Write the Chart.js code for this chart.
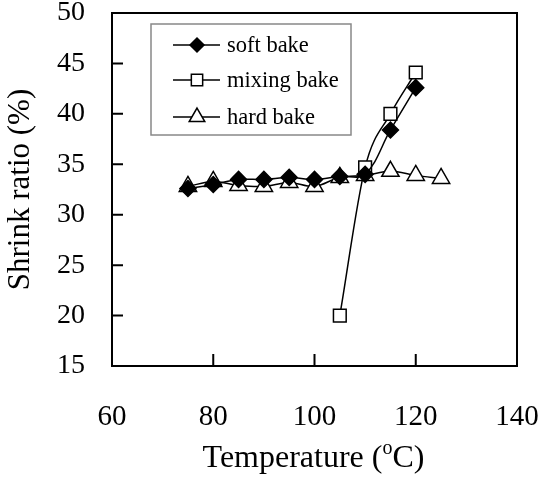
<!DOCTYPE html>
<html>
<head>
<meta charset="utf-8">
<script src="https://cdn.jsdelivr.net/npm/chart.js@4.4.1/dist/chart.umd.min.js"></script>
<style>
  html, body { margin: 0; padding: 0; background: #fff; }
  #wrap { width: 542px; height: 482px; }
</style>
</head>
<body>
<div id="wrap"><canvas id="myChart" width="542" height="482"></canvas></div>
<script>
// values
var softTemps = [75, 80, 85, 90, 95, 100, 105, 110, 115, 120];
var softBake = [32.6, 33.0, 33.5, 33.5, 33.7, 33.5, 33.8, 34.0, 38.4, 42.6];

var mixTemps = [105, 110, 115, 120];
var mixingBake = [20.0, 34.7, 40.0, 44.1];

var hardTemps = [75, 80, 85, 90, 95, 100, 105, 110, 115, 120, 125];
var hardBake = [32.8, 33.3, 32.9, 32.8, 33.2, 32.8, 33.7, 33.9, 34.3, 33.9, 33.6];

var xTicks = [60, 80, 100, 120, 140];
var yTicks = [15, 20, 25, 30, 35, 40, 45, 50];

var seriesNames = ['soft bake', 'mixing bake', 'hard bake'];
var serif = '"Liberation Serif", "Times New Roman", serif';

function pairs(xs, ys) {
    return xs.map(function(x, i) { return {x: x, y: ys[i]}; });
}

function noPad(s) {
    s.paddingTop = 0; s.paddingBottom = 0; s.paddingLeft = 0; s.paddingRight = 0;
}

// frame, inward ticks, x title with superscript, boxed legend
var extras = {
    id: 'extras',
    afterDraw: function(chart) {
        var ctx = chart.ctx;
        var a = chart.chartArea;
        var xs = chart.scales.x, ys = chart.scales.y;
        ctx.save();
        ctx.strokeStyle = '#000';
        ctx.lineWidth = 2;
        ctx.strokeRect(a.left, a.top, a.right - a.left, a.bottom - a.top);
        ctx.beginPath();
        for (var i = 1; i < yTicks.length - 1; i++) {
            var py = ys.getPixelForValue(yTicks[i]);
            ctx.moveTo(a.left, py);
            ctx.lineTo(a.left + 11, py);
        }
        for (var j = 1; j < xTicks.length - 1; j++) {
            var px = xs.getPixelForValue(xTicks[j]);
            ctx.moveTo(px, a.bottom);
            ctx.lineTo(px, a.bottom - 12);
        }
        ctx.stroke();

        // x axis title
        ctx.fillStyle = '#000';
        ctx.textBaseline = 'alphabetic';
        ctx.textAlign = 'left';
        var t1 = 'Temperature (', t3 = 'C)';
        ctx.font = '20px ' + serif;
        var w2 = ctx.measureText('o').width;
        ctx.font = '32px ' + serif;
        var w1 = ctx.measureText(t1).width, w3 = ctx.measureText(t3).width;
        var cx = (a.left + a.right) / 2 - 1;
        var sx = cx - (w1 + w2 + w3) / 2;
        var base = 467;
        ctx.fillText(t1, sx, base);
        ctx.fillText(t3, sx + w1 + w2, base);
        ctx.font = '20px ' + serif;
        ctx.fillText('o', sx + w1, base - 13);

        // legend
        var lx = 151, ly = 24, lw = 200, lh = 111;
        ctx.strokeStyle = '#888';
        ctx.lineWidth = 1.5;
        ctx.strokeRect(lx, ly, lw, lh);
        var rows = [45, 80, 117];
        ctx.font = '22.5px ' + serif;
        ctx.textBaseline = 'middle';
        chart.data.datasets.forEach(function(ds, k) {
            var y = rows[k];
            ctx.strokeStyle = '#000';
            ctx.lineWidth = 1.5;
            ctx.beginPath();
            ctx.moveTo(173, y);
            ctx.lineTo(220, y);
            ctx.stroke();
            ctx.fillStyle = ds.pointBackgroundColor;
            ctx.strokeStyle = '#000';
            ctx.lineWidth = ds.pointBorderWidth;
            Chart.helpers.drawPoint(ctx, {
                pointStyle: ds.pointStyle,
                radius: ds.pointRadius - 1,
                rotation: 0,
                borderWidth: ds.pointBorderWidth
            }, 197, y);
            ctx.fillStyle = '#000';
            ctx.fillText(ds.label, 227, y + 1);
        });
        ctx.restore();
    }
};

var ctx = document.getElementById('myChart').getContext('2d');
var chart = new Chart(ctx, {
    type: 'line',
    data: {
        datasets: [{
            label: seriesNames[0],
            data: pairs(softTemps, softBake),
            borderColor: '#000',
            borderWidth: 1.5,
            tension: 0.35,
            pointStyle: 'rectRot',
            pointRadius: 8,
            pointBackgroundColor: '#000',
            pointBorderColor: '#000',
            pointBorderWidth: 1.5
        }, {
            label: seriesNames[1],
            data: pairs(mixTemps, mixingBake),
            borderColor: '#000',
            borderWidth: 1.5,
            cubicInterpolationMode: 'monotone',
            pointStyle: 'rect',
            pointRadius: 9,
            pointBackgroundColor: '#fff',
            pointBorderColor: '#000',
            pointBorderWidth: 1.5
        }, {
            label: seriesNames[2],
            data: pairs(hardTemps, hardBake),
            borderColor: '#000',
            borderWidth: 1.5,
            tension: 0.35,
            pointStyle: 'triangle',
            pointRadius: 10,
            pointBackgroundColor: '#fff',
            pointBorderColor: '#000',
            pointBorderWidth: 1.5
        }]
    },
    options: {
        responsive: false,
        animation: false,
        layout: { padding: { top: 13, right: 25, bottom: 0, left: 0 } },
        plugins: {
            legend: { display: false },
            tooltip: { enabled: false }
        },
        scales: {
            x: {
                type: 'linear',
                min: 60,
                max: 140,
                afterFit: function(s) { s.height = 116; noPad(s); },
                afterBuildTicks: function(s) { s.ticks = xTicks.map(function(v) { return {value: v}; }); },
                grid: { display: false, drawTicks: false },
                border: { display: false },
                ticks: { color: '#000', padding: 34, maxRotation: 0, font: { family: serif, size: 29 } }
            },
            y: {
                min: 15,
                max: 50,
                afterFit: function(s) { s.width = 112; noPad(s); },
                afterBuildTicks: function(s) { s.ticks = yTicks.map(function(v) { return {value: v}; }); },
                grid: { display: false, drawTicks: false },
                border: { display: false },
                ticks: { color: '#000', padding: 27, font: { family: serif, size: 28 } },
                title: {
                    display: true,
                    text: 'Shrink ratio (%)',
                    color: '#000',
                    padding: { top: 2, bottom: 0 },
                    font: { family: serif, size: 31 }
                }
            }
        }
    },
    plugins: [extras]
});
</script>
</body>
</html>
